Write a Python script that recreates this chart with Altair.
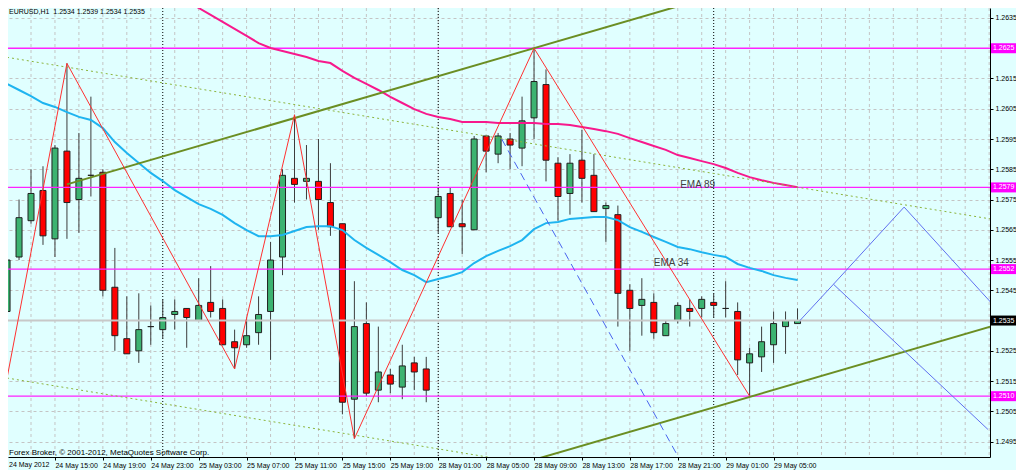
import altair as alt
import pandas as pd

# ---------------- data ----------------
OPEN = [1.2538, 1.2556, 1.2568, 1.2578, 1.2562, 1.2591, 1.2575, 1.2583, 1.2584, 1.2546,
        1.2529, 1.2525, 1.2533, 1.2532, 1.2537, 1.2539, 1.2535, 1.2541, 1.2539, 1.2528,
        1.2527, 1.2531, 1.2538, 1.2556, 1.2582, 1.2581, 1.2581, 1.2574, 1.2567, 1.2509,
        1.2534, 1.2512, 1.2517, 1.2513, 1.2521, 1.2519, 1.2569, 1.2577, 1.2567, 1.2565,
        1.2596, 1.2590, 1.2595, 1.2592, 1.2602, 1.2613, 1.2587, 1.2577, 1.2588, 1.2583,
        1.2572, 1.2570, 1.2545, 1.2540, 1.2541, 1.2530, 1.2535, 1.2539, 1.2539, 1.2541,
        1.2539, 1.2538, 1.2521, 1.2523, 1.2527, 1.2533, 1.2534]
HIGH = [1.2560, 1.2575, 1.2585, 1.2586, 1.2593, 1.2620, 1.2597, 1.2609, 1.2585, 1.2559,
        1.2543, 1.2544, 1.2540, 1.2542, 1.2542, 1.2539, 1.2549, 1.2553, 1.2542, 1.2532,
        1.2536, 1.2543, 1.2561, 1.2585, 1.2603, 1.2593, 1.2595, 1.2587, 1.2567, 1.2548,
        1.2541, 1.2533, 1.2519, 1.2527, 1.2523, 1.2523, 1.2579, 1.2579, 1.2575, 1.2596,
        1.2596, 1.2597, 1.2597, 1.2609, 1.2625, 1.2618, 1.2589, 1.2590, 1.2598, 1.2590,
        1.2574, 1.2573, 1.2547, 1.2549, 1.2544, 1.2535, 1.2541, 1.2542, 1.2543, 1.2544,
        1.2548, 1.2541, 1.2526, 1.2533, 1.2538, 1.2538, 1.2539]
LOW = [1.2516, 1.2555, 1.2567, 1.2560, 1.2556, 1.2562, 1.2564, 1.2576, 1.2543, 1.2525,
       1.2524, 1.2521, 1.2527, 1.2529, 1.2532, 1.2526, 1.2535, 1.2536, 1.2527, 1.2519,
       1.2526, 1.2527, 1.2522, 1.2550, 1.2574, 1.2575, 1.2565, 1.2563, 1.2504, 1.2496,
       1.2510, 1.2508, 1.2511, 1.2509, 1.2512, 1.2508, 1.2564, 1.2566, 1.2557, 1.2565,
       1.2584, 1.2587, 1.2585, 1.2586, 1.2595, 1.2581, 1.2568, 1.2570, 1.2574, 1.2571,
       1.2561, 1.2533, 1.2525, 1.2530, 1.2529, 1.2530, 1.2534, 1.2533, 1.2536, 1.2536,
       1.2536, 1.2517, 1.2510, 1.2518, 1.2521, 1.2524, 1.2534]
CLOSE = [1.2555, 1.2569, 1.2577, 1.2563, 1.2592, 1.2574, 1.2582, 1.2583, 1.2545, 1.2530,
         1.2524, 1.2532, 1.2533, 1.2536, 1.2538, 1.2536, 1.2540, 1.2538, 1.2527, 1.2526,
         1.2530, 1.2537, 1.2555, 1.2583, 1.2580, 1.2582, 1.2575, 1.2566, 1.2508, 1.2533,
         1.2511, 1.2518, 1.2514, 1.2520, 1.2518, 1.2512, 1.2576, 1.2566, 1.2566, 1.2595,
         1.2591, 1.2596, 1.2593, 1.2601, 1.2614, 1.2588, 1.2576, 1.2587, 1.2582, 1.2571,
         1.2573, 1.2544, 1.2539, 1.2542, 1.2531, 1.2534, 1.2540, 1.2538, 1.2542, 1.2540,
         1.2539, 1.2522, 1.2524, 1.2528, 1.2534, 1.2535, 1.2535]
BARS = list(range(len(OPEN)))

EMA34 = [1.26132, 1.26112, 1.26092, 1.26069, 1.26056, 1.26039, 1.26023, 1.26013, 1.25986, 1.25940,
         1.25904, 1.25871, 1.25838, 1.25811, 1.25781, 1.25758, 1.25735, 1.25719, 1.25699, 1.25672,
         1.25649, 1.25629, 1.25629, 1.25633, 1.25646, 1.25659, 1.25662, 1.25662, 1.25649, 1.25616,
         1.25590, 1.25567, 1.25543, 1.25517, 1.25500, 1.25477, 1.25487, 1.25497, 1.25510, 1.25540,
         1.25563, 1.25580, 1.25596, 1.25616, 1.25652, 1.25672, 1.25676, 1.25686, 1.25689, 1.25692,
         1.25692, 1.25682, 1.25659, 1.25643, 1.25626, 1.25610, 1.25593, 1.25586, 1.25576, 1.25567,
         1.25560, 1.25537, 1.25524, 1.25514, 1.25500, 1.25491, 1.25484]
EMA89_FIRST_BAR = 13
EMA89 = [1.26458, 1.26434, 1.26406, 1.26383, 1.26360, 1.26337, 1.26314, 1.26291, 1.26267, 1.26251,
         1.26241, 1.26231, 1.26221, 1.26208, 1.26201, 1.26175, 1.26152, 1.26132, 1.26112, 1.26089,
         1.26069, 1.26049, 1.26033, 1.26023, 1.26016, 1.26006, 1.26006, 1.26006, 1.26003, 1.26003,
         1.26003, 1.26003, 1.26000, 1.26000, 1.25996, 1.25990, 1.25983, 1.25976, 1.25967, 1.25953,
         1.25940, 1.25927, 1.25914, 1.25897, 1.25887, 1.25877, 1.25867, 1.25854, 1.25838, 1.25824,
         1.25814, 1.25805, 1.25798, 1.25791]

ZIGZAG_BARS = [0, 5, 19, 24, 29, 44, 62]
ZIGZAG_PRICES = [1.2516, 1.2620, 1.2519, 1.2603, 1.2496, 1.2625, 1.2510]

CHANNEL_UPPER = [(5, 1.2580), (83, 1.2670)]
CHANNEL_LOWER = [(44, 1.2489), (83, 1.2534)]
DOTTED_UPPER = [(0, 1.2622), (83, 1.2568)]
DOTTED_LOWER = [(0, 1.2516), (83, 1.2462)]
DASHED_BLUE = [(41.3, 1.2595), (58, 1.2476)]
PROJ_A = [(66.2, 1.2535), (69.0, 1.2547), (74.9, 1.25725), (82.6, 1.2539)]
PROJ_B = [(69.0, 1.2547), (81.9, 1.2499)]

LEVELS = [1.2625, 1.2579, 1.2552, 1.2510]
BID = 1.2535
SEPARATOR_BARS = [13, 36, 59]
# axis ticks (1.2625 and 1.2535 sit under the coloured price boxes, so they are not repeated)
PRICE_TICKS = [1.2495, 1.2505, 1.2515, 1.2525, 1.2545, 1.2555, 1.2565,
               1.2575, 1.2585, 1.2595, 1.2605, 1.2615, 1.2635]
TIME_TICK_BARS = [4, 8, 12, 16, 20, 24, 28, 32, 36, 40, 44, 48, 52, 56, 60, 64]
TIME_LABELS = ['24 May 2012', '24 May 15:00', '24 May 19:00', '24 May 23:00', '25 May 03:00',
               '25 May 07:00', '25 May 11:00', '25 May 15:00', '25 May 19:00', '28 May 01:00',
               '28 May 05:00', '28 May 09:00', '28 May 13:00', '28 May 17:00', '28 May 21:00',
               '29 May 01:00', '29 May 05:00']
GRID_BARS = list(range(2, 84, 2))
EMA_TEXTS = [("EMA 89", 56.2, 1.25798), ("EMA 34", 54.0, 1.25540)]
HEADER = "EURUSD,H1\u00a0 1.2534 1.2539 1.2534 1.2535"
COPYRIGHT = "Forex Broker, \u00a9 2001-2012, MetaQuotes Software Corp."

# ---------------- layout / style ----------------
W, H = 982, 449
FONT = "Liberation Sans"
XS = alt.Scale(domain=[0.496, 0.496 + W / 12.1], nice=False, zero=False)
YS = alt.Scale(domain=[1.24899, 1.26383], nice=False, zero=False)

label_expr = "[" + ",".join("'%s'" % t for t in TIME_LABELS) + "][round(datum.value / 4)]"
XAXIS = alt.Axis(orient="bottom", values=TIME_TICK_BARS, labelExpr=label_expr, labelAlign="left",
                 labelPadding=1, tickSize=3, grid=False, domainColor="#000000", tickColor="#000000",
                 labelFont=FONT, labelFontSize=7, labelColor="#000000", labelFlush=False,
                 labelOverlap=False, title=None)
YAXIS = alt.Axis(orient="right", values=PRICE_TICKS, format=".4f", grid=True, gridColor="#C4C4C4",
                 gridDash=[3, 3], gridWidth=1, tickSize=3, tickColor="#000000", domainColor="#000000",
                 labelFont=FONT, labelFontSize=7, labelColor="#000000", labelPadding=2,
                 labelFlush=False, labelOverlap=False, labelBaseline="middle", title=None)


def xq(field="bar"):
    return alt.X(f"{field}:Q", scale=XS, axis=XAXIS)


def yq(field="price"):
    return alt.Y(f"{field}:Q", scale=YS, axis=YAXIS)


def seg_df(points, name="a"):
    return pd.DataFrame({"bar": [p[0] for p in points], "price": [p[1] for p in points],
                         "line": name, "k": list(range(len(points)))})


candles = pd.DataFrame({"bar": BARS, "open": OPEN, "high": HIGH, "low": LOW, "close": CLOSE})
ema34 = pd.DataFrame({"bar": BARS, "price": EMA34})
ema89 = pd.DataFrame({"bar": list(range(EMA89_FIRST_BAR, EMA89_FIRST_BAR + len(EMA89))), "price": EMA89})
zigzag = pd.DataFrame({"bar": ZIGZAG_BARS, "price": ZIGZAG_PRICES})

vgrid = alt.Chart(pd.DataFrame({"bar": GRID_BARS})).mark_rule(
    color="#C4C4C4", strokeDash=[3, 3], strokeWidth=1, clip=True).encode(x=xq())
seps = alt.Chart(pd.DataFrame({"bar": SEPARATOR_BARS})).mark_rule(
    color="#000000", strokeDash=[1, 2], strokeWidth=1, clip=True).encode(x=xq())
bid = alt.Chart(pd.DataFrame({"price": [BID]})).mark_rule(
    color="#C8C8C8", strokeWidth=2, clip=True).encode(y=yq())
levels = alt.Chart(pd.DataFrame({"price": LEVELS})).mark_rule(
    color="#FF22FF", strokeWidth=1.3, clip=True).encode(y=yq())

wicks = alt.Chart(candles).mark_rule(color="#3C3C3C", strokeWidth=1, clip=True).encode(
    x=xq(), y=yq("low"), y2="high")
bodies = alt.Chart(candles).mark_bar(size=6, stroke="#202020", strokeWidth=1, clip=True).encode(
    x=xq(), y=yq("open"), y2="close",
    color=alt.condition("datum.close >= datum.open", alt.value("#3CB371"), alt.value("#FF0000")))

ema34_line = alt.Chart(ema34).mark_line(color="#1EB4F0", strokeWidth=2, clip=True).encode(
    x=xq(), y=yq())
ema89_line = alt.Chart(ema89).mark_line(color="#F7198C", strokeWidth=2, clip=True).encode(
    x=xq(), y=yq())

dotted = alt.Chart(pd.concat([seg_df(DOTTED_UPPER, "u"), seg_df(DOTTED_LOWER, "l")])).mark_line(
    color="#8CB43C", strokeDash=[2, 3], strokeWidth=1, clip=True).encode(
    x=xq(), y=yq(), detail="line:N", order="k:Q")
channel = alt.Chart(pd.concat([seg_df(CHANNEL_UPPER, "u"), seg_df(CHANNEL_LOWER, "l")])).mark_line(
    color="#6B8E23", strokeWidth=2, clip=True).encode(
    x=xq(), y=yq(), detail="line:N", order="k:Q")
dashed = alt.Chart(seg_df(DASHED_BLUE)).mark_line(
    color="#4A64EE", strokeDash=[8, 5], strokeWidth=1, clip=True).encode(
    x=xq(), y=yq(), order="k:Q")
proj = alt.Chart(pd.concat([seg_df(PROJ_A, "a"), seg_df(PROJ_B, "b")])).mark_line(
    color="#6070F0", strokeWidth=1, clip=True).encode(
    x=xq(), y=yq(), detail="line:N", order="k:Q")
zz = alt.Chart(zigzag).mark_line(color="#FF3030", strokeWidth=1, clip=True).encode(
    x=xq(), y=yq())

ema_txt = alt.Chart(pd.DataFrame({"t": [e[0] for e in EMA_TEXTS], "bar": [e[1] for e in EMA_TEXTS],
                                  "price": [e[2] for e in EMA_TEXTS]})).mark_text(
    align="left", baseline="middle", font=FONT, fontSize=10, color="#404040").encode(
    x=xq(), y=yq(), text="t:N")

header = alt.Chart(pd.DataFrame({"t": [HEADER]})).mark_text(
    align="left", baseline="alphabetic", font=FONT, fontSize=7, color="#000000").encode(
    x=alt.value(1), y=alt.value(6), text="t:N")
copyright_txt = alt.Chart(pd.DataFrame({"t": [COPYRIGHT]})).mark_text(
    align="left", baseline="alphabetic", font=FONT, fontSize=8, color="#000000").encode(
    x=alt.value(1), y=alt.value(447), text="t:N")
first_label = alt.Chart(pd.DataFrame({"t": [TIME_LABELS[0]]})).mark_text(
    align="left", baseline="top", font=FONT, fontSize=7, color="#000000").encode(
    x=alt.value(1), y=alt.value(H + 4), text="t:N")

box_df = pd.DataFrame({"price": LEVELS + [BID],
                       "fill": ["#FF00FF"] * len(LEVELS) + ["#000000"]})
box_df["label"] = box_df["price"].map(lambda v: "%.4f" % v)
box_df["top"] = box_df["price"] + 0.000165
box_df["bottom"] = box_df["price"] - 0.000165
boxes = alt.Chart(box_df).mark_rect(clip=False).encode(
    x=alt.value(W + 1), x2=alt.value(W + 26), y=yq("top"), y2="bottom",
    color=alt.Color("fill:N", scale=None))
box_txt = alt.Chart(box_df).mark_text(
    align="left", baseline="middle", font=FONT, fontSize=7, color="#FFFFFF", clip=False).encode(
    x=alt.value(W + 3), y=yq(), text="label:N")

chart = alt.layer(
    vgrid, seps, wicks, bodies, bid, levels, ema34_line, ema89_line,
    dotted, channel, dashed, proj, zz, ema_txt, header, copyright_txt, first_label,
    boxes, box_txt,
).properties(
    width=W, height=H,
    autosize=alt.AutoSizeParams(type="none"),
    padding={"left": 0, "top": 0, "right": 26, "bottom": 13},
).configure(
    background="#E0FFFF", font=FONT,
).configure_view(stroke=None)

chart.save("out.html", embed_options={"renderer": "svg", "actions": False})
